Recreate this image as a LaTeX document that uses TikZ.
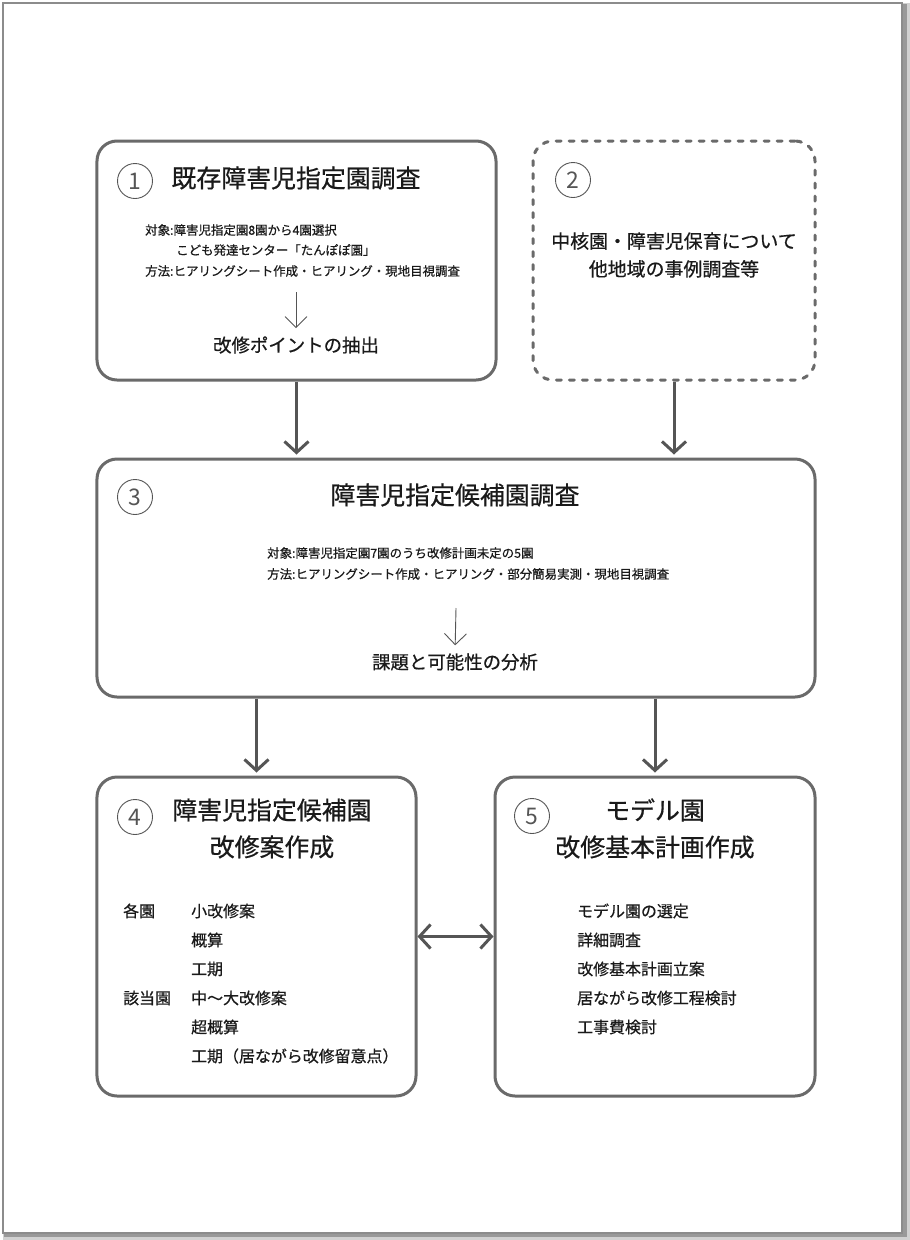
\documentclass[tikz,border=0pt]{standalone}
\usepackage{fontspec}
\setmainfont[FakeBold=0.6]{Noto Sans CJK JP}
\newfontfamily\numfont{Noto Sans CJK JP}
\usetikzlibrary{arrows.meta}

\definecolor{framegray}{HTML}{6A6A6A}
\definecolor{arrowgray}{HTML}{555555}
\definecolor{inkgray}{HTML}{1A1A1A}

\tikzset{
  stage/.style={draw=framegray, line width=3bp, rounded corners=20bp, inner sep=0pt},
  numcircle/.style={draw=arrowgray, line width=0.9bp, circle, minimum size=35bp, inner sep=0pt,
    text=arrowgray, font=\numfont\fontsize{23}{23}\selectfont},
  headline/.style={text=inkgray, inner sep=0pt, align=center, font=\fontsize{25}{37}\selectfont},
  note/.style={text=inkgray, inner sep=0pt, anchor=west, font=\fontsize{12.5}{15}\selectfont},
  result/.style={text=inkgray, inner sep=0pt, font=\fontsize{18.5}{22}\selectfont},
  item/.style={text=inkgray, inner sep=0pt, anchor=west, font=\fontsize{16}{20}\selectfont},
  flow/.style={draw=arrowgray, line width=3bp, -{Straight Barb[length=11bp,width=24bp]}},
  thinflow/.style={draw=arrowgray, line width=0.9bp, -{Straight Barb[length=11bp,width=22bp]}}
}

\begin{document}
\begin{tikzpicture}[x=1bp, y=-1bp]
    \useasboundingbox (0,0) rectangle (910,1240);
    % page with shadow
    \fill[black!18] (3,3) rectangle (910,1240);
    \fill[black!40] (4,4) rectangle (907,1237);
    \fill[white, draw=black!45, line width=1.2bp] (3,3) rectangle (902,1233);

    % boxes
    \node[stage, minimum width=399bp, minimum height=239bp] (existing) at (296.5,260.5) {};
    \node[stage, dash pattern=on 5bp off 8bp, line cap=round,
          minimum width=282bp, minimum height=239bp] (others) at (674,260.5) {};
    \node[stage, minimum width=718bp, minimum height=238bp] (candidate) at (456,578) {};
    \node[stage, minimum width=319bp, minimum height=319bp] (renovation) at (256.5,936.5) {};
    \node[stage, minimum width=320bp, minimum height=319bp] (model) at (655,936.5) {};

    % numbers
    \node[numcircle] (n1) at (135,181) {1};
    \node[numcircle] (n2) at (573,180) {2};
    \node[numcircle] (n3) at (135,497) {3};
    \node[numcircle] (n4) at (135,817) {4};
    \node[numcircle] (n5) at (532,816) {5};

    % 1
    \node[headline] (t1) at (296,178) {既存障害児指定園調査};
    \node[note] (t1a) at (145,230) {対象:障害児指定園8園から4園選択};
    \node[note] (t1b) at (176,250) {こども発達センター「たんぽぽ園」};
    \node[note] (t1c) at (145,271) {方法:ヒアリングシート作成・ヒアリング・現地目視調査};
    \node[result] (r1) at (296,345) {改修ポイントの抽出};
    \coordinate (a1) at (296,292);
    \draw[thinflow, shorten >=8bp] (a1) -- (r1.north);

    % 2
    \node[text=inkgray, inner sep=0pt, align=center, font=\fontsize{19}{28}\selectfont]
        (t2) at (674,255) {中核園・障害児保育について\\他地域の事例調査等};

    % 3
    \node[headline] (t3) at (455,495) {障害児指定候補園調査};
    \node[note] (t3a) at (267,553) {対象:障害児指定園7園のうち改修計画未定の5園};
    \node[note] (t3b) at (267,574) {方法:ヒアリングシート作成・ヒアリング・部分簡易実測・現地目視調査};
    \node[result] (r3) at (455,662) {課題と可能性の分析};
    \coordinate (a3) at (456,608);
    \draw[thinflow, shorten >=8bp] (a3) -- (r3.north);

    % 4
    \node[headline] (t4) at (272,828.5) {障害児指定候補園\\改修案作成};
    \node[item] (g1) at (123,911) {各園};
    \node[item] (g2) at (123,998) {該当園};
    \foreach \txt [count=\i] in {小改修案,概算,工期,中～大改修案,超概算,工期（居ながら改修留意点）}
        \node[item] (p\i) at (191,882+29*\i) {\txt};

    % 5
    \node[headline] (t5) at (655,828.5) {モデル園\\改修基本計画作成};
    \foreach \txt [count=\i] in {モデル園の選定,詳細調査,改修基本計画立案,居ながら改修工程検討,工事費検討}
        \node[item] (q\i) at (577,882+29*\i) {\txt};

    % connectors
    \draw[flow, shorten >=3bp] (existing.south) -- (existing.south |- candidate.north);
    \draw[flow, shorten >=3bp] (others.south) -- (others.south |- candidate.north);
    \draw[flow, shorten >=3bp] (candidate.south -| renovation.north) -- (renovation.north);
    \draw[flow, shorten >=3bp] (candidate.south -| model.north) -- (model.north);
    \draw[flow, {Straight Barb[length=11bp,width=24bp]}-{Straight Barb[length=11bp,width=24bp]}]
        (renovation.east) -- (model.west);
\end{tikzpicture}
\end{document}
